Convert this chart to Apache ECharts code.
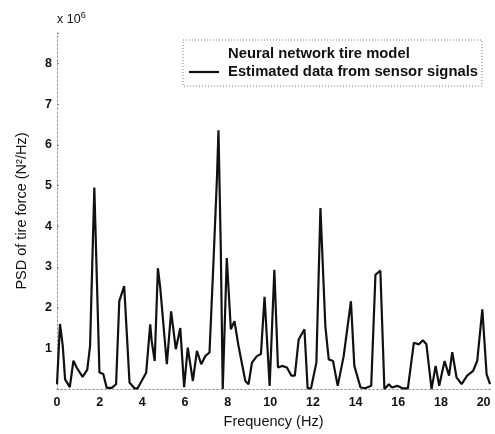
<!DOCTYPE html>
<html>
<head>
<meta charset="utf-8">
<script src="https://cdn.jsdelivr.net/npm/echarts@6/dist/echarts.min.js"></script>
<style>html,body{margin:0;padding:0;background:#fff;}#c{width:495px;height:434px;}</style>
</head>
<body>
<div id="c"></div>
<script>
// Frequency (Hz) and PSD (x 10^6 N^2/Hz)
const freq = [0, 0.14, 0.27, 0.38, 0.6, 0.77, 0.92, 1.2, 1.42, 1.55, 1.75, 1.99, 2.17, 2.33, 2.57, 2.77, 2.92, 3.15, 3.4, 3.63, 3.78, 4.18, 4.37, 4.44, 4.58, 4.73, 4.84, 5.15, 5.35, 5.57, 5.78, 5.96, 6.13, 6.37, 6.56, 6.76, 6.95, 7.15, 7.22, 7.34, 7.5, 7.57, 7.68, 7.77, 7.96, 8.15, 8.32, 8.51, 8.83, 8.98, 9.14, 9.37, 9.56, 9.73, 9.97, 10.19, 10.36, 10.55, 10.78, 10.99, 11.15, 11.33, 11.6, 11.75, 11.91, 12.16, 12.35, 12.58, 12.74, 12.94, 13.16, 13.44, 13.78, 13.94, 14.23, 14.45, 14.73, 14.93, 15.16, 15.35, 15.56, 15.7, 15.95, 16.2, 16.45, 16.73, 16.97, 17.15, 17.32, 17.56, 17.75, 17.92, 18.17, 18.38, 18.53, 18.73, 18.97, 19.23, 19.51, 19.7, 19.94, 20.14, 20.3];
const psd = [0.12, 1.6, 1.06, 0.24, 0.05, 0.7, 0.53, 0.3, 0.48, 1.06, 4.95, 0.41, 0.37, 0.03, 0.03, 0.12, 2.16, 2.53, 0.16, 0.02, 0.02, 0.4, 1.59, 1.18, 0.69, 2.97, 2.49, 0.61, 1.91, 0.98, 1.5, 0.05, 1.02, 0.2, 0.94, 0.61, 0.81, 0.9, 0.9, 3.18, 5.2, 6.36, 3.42, 0.0, 3.22, 1.47, 1.67, 1.06, 0.2, 0.12, 0.65, 0.81, 0.86, 2.27, 0.08, 2.93, 0.53, 0.57, 0.53, 0.33, 0.33, 1.22, 1.47, 0.02, 0.02, 0.65, 4.45, 1.55, 0.73, 0.69, 0.08, 0.81, 2.16, 0.57, 0.04, 0.02, 0.08, 2.81, 2.91, 0.0, 0.12, 0.04, 0.08, 0.02, 0.02, 1.14, 1.1, 1.2, 1.1, 0.0, 0.57, 0.08, 0.69, 0.33, 0.91, 0.29, 0.12, 0.33, 0.45, 0.69, 1.96, 0.37, 0.12];
const seriesNames = ['Neural network tire model', 'Estimated data from sensor signals'];
const xTicks = [0, 2, 4, 6, 8, 10, 12, 14, 16, 18, 20];
const yTicks = [1, 2, 3, 4, 5, 6, 7, 8];

const chart = echarts.init(document.getElementById('c'));
const dotted = {show: true, lineStyle: {color: '#8a8a8a', type: [1, 3], width: 1}};
const font = 'Liberation Sans, Arial, sans-serif';
const lineIcon = 'path://M0,0 L32,0 L32,2.4 L0,2.4 Z';
chart.setOption({
  animation: false,
  backgroundColor: '#fff',
  grid: {left: 57, right: 5, top: 33, bottom: 44, containLabel: false},
  legend: {
    right: 13, top: 40,
    orient: 'vertical',
    itemWidth: 30, itemHeight: 3, itemGap: 2,
    padding: [6, 4, 6, 6],
    borderColor: '#777', borderWidth: 1, borderType: [1, 2],
    backgroundColor: '#fff',
    textStyle: {fontFamily: font, fontSize: 14.8, color: '#111', fontWeight: 'bold', lineHeight: 16, padding: [0, 0, 0, 4]},
    data: [
      {name: seriesNames[0], icon: lineIcon, itemStyle: {opacity: 0}, lineStyle: {opacity: 0}},
      {name: seriesNames[1], icon: lineIcon, itemStyle: {color: '#111'}}
    ]
  },
  graphic: [{
    type: 'text', left: 57, top: 11,
    style: {
      text: 'x 10{s|6}',
      rich: {s: {fontSize: 9, verticalAlign: 'top', padding: [0, 0, 8, 0], fontFamily: font}},
      fontFamily: font, fontSize: 12.5, fill: '#111'
    }
  }],
  xAxis: [{
    type: 'value', min: 0, max: 20.3, interval: 2,
    name: 'Frequency (Hz)', nameLocation: 'middle', nameGap: 21,
    nameTextStyle: {fontFamily: font, fontSize: 14.5, color: '#111'},
    axisLine: dotted, axisTick: {show: false}, splitLine: {show: false},
    axisLabel: {fontFamily: font, fontSize: 12.5, fontWeight: 'bold', color: '#111', margin: 7,
      formatter: v => xTicks.includes(Math.round(v * 100) / 100) ? String(v) : ''}
  }, {
    type: 'value', position: 'top', min: 0, max: 20.3,
    axisLine: dotted, axisTick: {show: false}, axisLabel: {show: false}, splitLine: {show: false}
  }],
  yAxis: [{
    type: 'value', min: 0, max: 8.75, interval: 1,
    name: 'PSD of tire force (N²/Hz)', nameLocation: 'middle', nameGap: 28, nameRotate: 90,
    nameTextStyle: {fontFamily: font, fontSize: 14.5, color: '#111'},
    axisLine: dotted, axisTick: {show: true, inside: true, length: 2, lineStyle: {color: '#888'}},
    splitLine: {show: false},
    axisLabel: {fontFamily: font, fontSize: 12.5, fontWeight: 'bold', color: '#111', margin: 5,
      formatter: v => yTicks.includes(Math.round(v * 100) / 100) ? String(v) : ''}
  }, {
    type: 'value', position: 'right', min: 0, max: 8.75,
    axisLine: dotted, axisTick: {show: false}, axisLabel: {show: false}, splitLine: {show: false}
  }],
  series: [{
    name: seriesNames[0], type: 'line', data: [], symbol: 'none',
    lineStyle: {color: '#fff', width: 0}, itemStyle: {color: '#fff'}
  }, {
    name: seriesNames[1], type: 'line', symbol: 'none',
    data: freq.map((f, i) => [f, psd[i]]),
    lineStyle: {color: '#111', width: 2.2}, itemStyle: {color: '#111'}
  }]
});
</script>
</body>
</html>
